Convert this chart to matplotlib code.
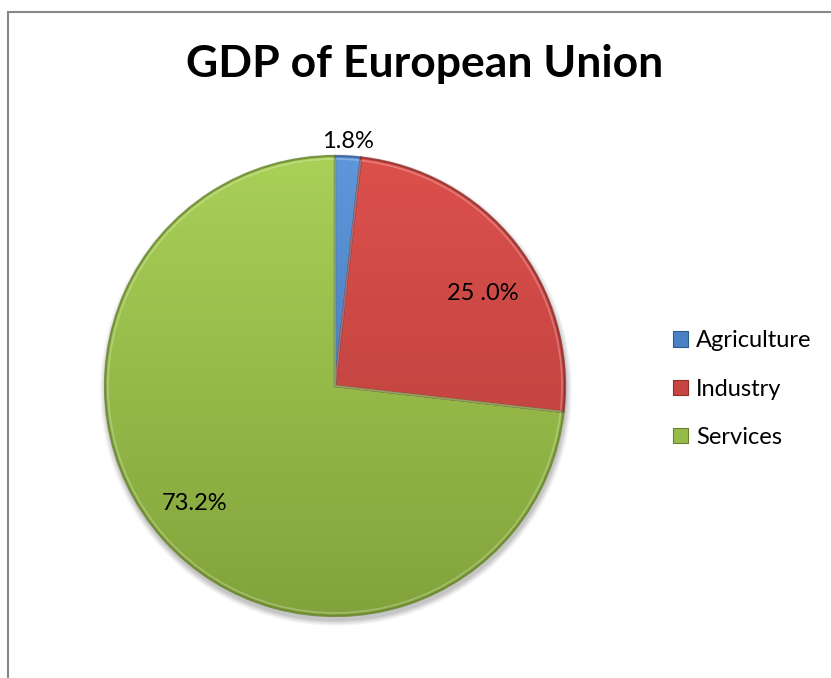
"""
GDP of European Union - pie chart of sector shares (Excel look-alike).
Output: out.png (831x678)
"""

import matplotlib.pyplot as plt
import matplotlib.patches as mpatches
import matplotlib.colors as mcolors
import numpy as np

# ---------------------------------------------------------------------------
# Data
# ---------------------------------------------------------------------------
SECTORS = ["Agriculture", "Industry", "Services"]
SHARES = [1.8, 25.0, 73.2]
SHARE_LABELS = ["1.8%", "25 .0%", "73.2%"]

# top / bottom colours of each slice gradient
TOP_COLORS = ["#5E97DA", "#DD504C", "#A9D057"]
BOTTOM_COLORS = ["#3A6BA8", "#B03C39", "#82A33B"]
EDGE_COLORS = ["#2F5A8E", "#8E2E2B", "#66822C"]
LEGEND_COLORS = ["#4A80C4", "#C94541", "#95BC48"]

W, H = 831, 678
CX, CY, R = 335, H - 386, 230

plt.rcParams["font.family"] = ["Lato", "DejaVu Sans"]

fig = plt.figure(figsize=(W / 100, H / 100), dpi=100)
ax = fig.add_axes([0, 0, 1, 1])

# soft drop shadow under the pie
for k, a in zip(range(6), [0.05, 0.05, 0.04, 0.04, 0.03, 0.03]):
    ax.add_patch(mpatches.Circle((CX + 1, CY - 4), R + 1 + k, color="black",
                                 alpha=a, lw=0, zorder=1))

wedges, _ = ax.pie(SHARES, center=(CX, CY), radius=R, startangle=90,
                   counterclock=False, colors=TOP_COLORS,
                   wedgeprops=dict(linewidth=0, zorder=2))

# vertical gradient fill clipped to each wedge
ramp = np.linspace(0, 1, 256)[:, None]
for w, c0, c1, ec in zip(wedges, TOP_COLORS, BOTTOM_COLORS, EDGE_COLORS):
    a = np.array(mcolors.to_rgb(c0))
    b = np.array(mcolors.to_rgb(c1))
    img = (a[None, None, :] * (1 - ramp[..., None]) + b[None, None, :] * ramp[..., None])
    img = np.repeat(img, 2, axis=1)
    im = ax.imshow(img, extent=(CX - R, CX + R, CY - R, CY + R),
                   origin="upper", zorder=3, aspect="auto", interpolation="bilinear")
    im.set_clip_path(w)
    # bevel-ish darker rim
    rim = mpatches.Wedge(w.center, w.r, w.theta1, w.theta2, fill=False,
                         edgecolor=ec, linewidth=1.6, zorder=4, alpha=0.8)
    ax.add_patch(rim)
    hl = mpatches.Wedge(w.center, w.r - 3, w.theta1, w.theta2, fill=False,
                        edgecolor="white", linewidth=1.2, zorder=4, alpha=0.25)
    ax.add_patch(hl)

# slice labels
label_pos = [(348, H - 142), (483, H - 294), (195, H - 504)]
for (x, y), txt in zip(label_pos, SHARE_LABELS):
    ax.text(x, y, txt, ha="center", va="center", fontsize=17, color="black", zorder=5)

ax.set_xlim(0, W)
ax.set_ylim(0, H)
ax.set_aspect("auto")
ax.axis("off")

# title
fig.text(425 / W, 1 - 64 / H, "GDP of European Union", ha="center", va="center",
         fontsize=32, fontweight="bold")

# legend
handles = [mpatches.Patch(facecolor=c, edgecolor=e, linewidth=0.8)
           for c, e in zip(LEGEND_COLORS, EDGE_COLORS)]
fig.legend(handles, SECTORS, loc="center left", bbox_to_anchor=(673 / W, 1 - 389 / H),
           frameon=False, fontsize=17, handlelength=0.62, handleheight=0.62,
           handletextpad=0.35, labelspacing=1.15, borderpad=0, borderaxespad=0)

# chart-area frame (right and bottom edges run off the picture)
fig.patches.append(mpatches.Rectangle((8 / W, -0.1), 1.2, 1 - 12 / H + 0.1,
                                      transform=fig.transFigure, fill=False,
                                      edgecolor="#878787", linewidth=1.5))

fig.savefig("out.png", dpi=100)
